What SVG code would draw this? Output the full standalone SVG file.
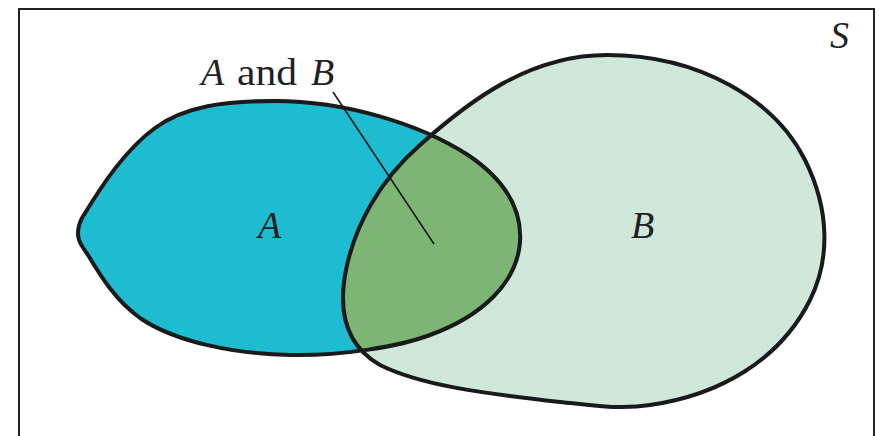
<svg xmlns="http://www.w3.org/2000/svg" width="879" height="436" viewBox="0 0 879 436">
  <style>
    .outline { fill: none; stroke: #1a1a1a; stroke-width: 4; stroke-linejoin: round; }
    .lbl { font-family: "Liberation Serif", "DejaVu Serif", serif; font-size: 38px; fill: #222; }
    .it { font-style: italic; }
    .leader { stroke: #1a1a1a; stroke-width: 1.6; fill: none; }
  </style>
  <defs>
    <path id="pathA" d="M 82,246 C 76,237 77,228 82,218 C 102,185 125,150 155,128 C 185,106 225,101 275,101 C 345,101 420,124 468,155 C 508,182 522,212 520,242 C 517,283 482,316 430,335 C 398,347 340,356 290,355 C 235,354 175,342 140,318 C 115,300 100,275 88,255 C 85,251 84,249 82,246 Z"/>
    <path id="pathB" d="M 607,55 C 700,55 775,100 805,160 C 830,210 830,260 810,300 C 780,360 720,395 650,405 C 620,410 590,405 560,402 C 480,393 420,385 380,365 C 345,345 338,310 346,270 C 355,225 380,180 420,145 C 470,100 530,55 607,55 Z"/>
    <clipPath id="clipA"><use href="#pathA"/></clipPath>
  </defs>

  <g id="S">
    <rect x="19" y="9" width="855" height="440" fill="#ffffff" stroke="#222" stroke-width="2"/>
    <text class="lbl it" x="830" y="48">S</text>
  </g>

  <g id="A">
    <use href="#pathA" fill="#1dbcd0"/>
  </g>
  <g id="B">
    <use href="#pathB" fill="#cfe8da"/>
  </g>
  <g id="AandB">
    <use href="#pathB" fill="#7db574" clip-path="url(#clipA)"/>
  </g>
  <g id="outlines">
    <use href="#pathA" class="outline"/>
    <use href="#pathB" class="outline"/>
  </g>

  <g id="connectors">
    <line class="leader" x1="333" y1="92" x2="434" y2="244"/>
  </g>

  <g id="labels">
    <text class="lbl" y="85"><tspan class="it" x="201">A</tspan><tspan x="237" textLength="60" lengthAdjust="spacingAndGlyphs">and</tspan><tspan class="it" x="311">B</tspan></text>
    <text class="lbl it" x="258" y="238">A</text>
    <text class="lbl it" x="631" y="238">B</text>
  </g>
</svg>
